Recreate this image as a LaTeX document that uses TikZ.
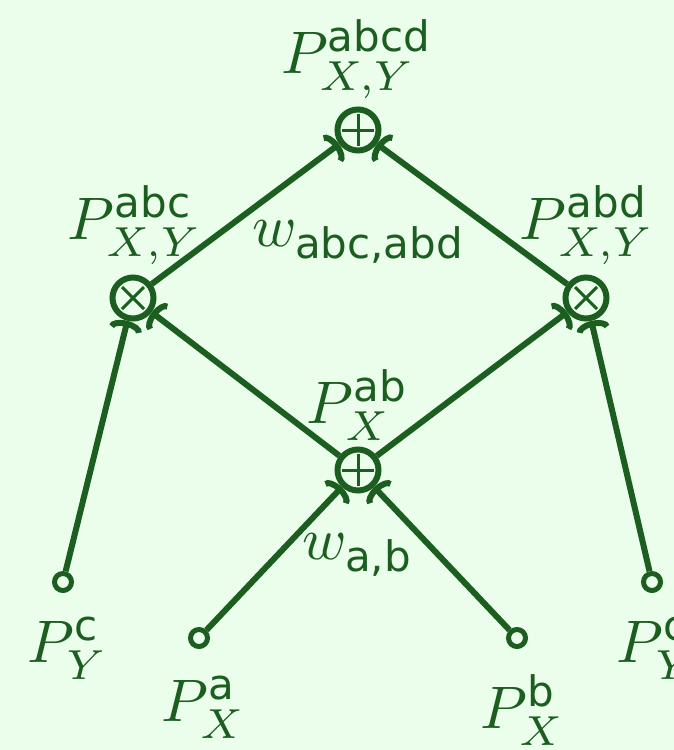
\documentclass[tikz,border=0pt]{standalone}
\usepackage{amsmath}
\usepackage{fontspec}
\setsansfont{DejaVu Sans}
\usetikzlibrary{arrows.meta}
\definecolor{dg}{RGB}{27,94,32}
\definecolor{bg}{RGB}{235,253,235}
\tikzset{
  op/.style={circle,draw=dg,line width=6pt,minimum size=41pt,inner sep=0pt},
  src/.style={circle,draw=dg,line width=5pt,minimum size=17pt,inner sep=0pt},
  lab/.style={text=dg,inner sep=0pt},
  conn/.style={draw=dg,line width=6pt,-{Arc Barb[length=9pt,width=34pt]}},
}
\newcommand{\lbl}[1]{\scalebox{6}{#1}}
\begin{document}
\begin{tikzpicture}[x=1pt,y=-1pt]
\fill[bg] (0,0) rectangle (674,750);
\useasboundingbox (0,0) rectangle (674,750);
% operators
\node[op] (top) at (358,130) {};
\draw[dg,line width=3pt] ([xshift=-16pt]top.center) -- ([xshift=16pt]top.center) ([yshift=-16pt]top.center) -- ([yshift=16pt]top.center);
\node[op] (mid) at (358,470) {};
\draw[dg,line width=3pt] ([xshift=-16pt]mid.center) -- ([xshift=16pt]mid.center) ([yshift=-16pt]mid.center) -- ([yshift=16pt]mid.center);
\node[op] (lm) at (133,298) {};
\draw[dg,line width=3pt] ([shift={(-11pt,-11pt)}]lm.center) -- ([shift={(11pt,11pt)}]lm.center) ([shift={(-11pt,11pt)}]lm.center) -- ([shift={(11pt,-11pt)}]lm.center);
\node[op] (rm) at (586,298) {};
\draw[dg,line width=3pt] ([shift={(-11pt,-11pt)}]rm.center) -- ([shift={(11pt,11pt)}]rm.center) ([shift={(-11pt,11pt)}]rm.center) -- ([shift={(11pt,-11pt)}]rm.center);
% sources
\node[src] (yc1) at (63,582) {};
\node[src] (xa) at (199,638) {};
\node[src] (xb) at (517,638) {};
\node[src] (yc2) at (652,582) {};
% connectors
\draw[conn] (lm) -- (top);
\draw[conn] (rm) -- (top);
\draw[conn] (mid) -- (lm);
\draw[conn] (mid) -- (rm);
\draw[conn] (xa) -- (mid);
\draw[conn] (xb) -- (mid);
\draw[conn] (yc1) -- (lm);
\draw[conn] (yc2) -- (rm);
% labels
\node[lab] (ltop) at (357,59) {\lbl{$P^{\textsf{abcd}}_{X,Y}$}};
\node[lab] (llm) at (135,225) {\lbl{$P^{\textsf{abc}}_{X,Y}$}};
\node[lab] (lrm) at (587,225) {\lbl{$P^{\textsf{abd}}_{X,Y}$}};
\node[lab] (lw1) at (359,242) {\lbl{$w_{\textsf{abc,abd}}$}};
\node[lab] (lmid) at (358,405) {\lbl{$P^{\textsf{ab}}_{X}$}};
\node[lab] (lw2) at (358,555) {\lbl{$w_{\textsf{a,b}}$}};
\node[lab] (lyc1) at (68,648) {\lbl{$P^{\textsf{c}}_{Y}$}};
\node[lab] (lxa) at (204,707) {\lbl{$P^{\textsf{a}}_{X}$}};
\node[lab] (lxb) at (523,710) {\lbl{$P^{\textsf{b}}_{X}$}};
\node[lab] (lyc2) at (657,648) {\lbl{$P^{\textsf{c}}_{Y}$}};
\end{tikzpicture}
\end{document}
